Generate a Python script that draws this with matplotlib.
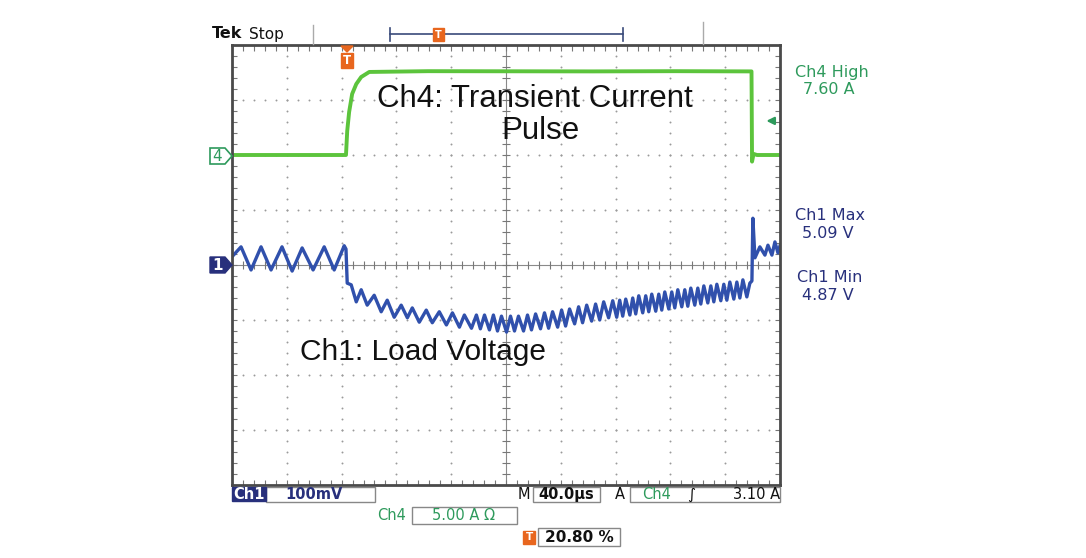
import matplotlib
matplotlib.use("Agg")
import matplotlib.pyplot as plt
from matplotlib.patches import Rectangle, Polygon
from matplotlib.collections import LineCollection
import numpy as np

# scope settings
time_per_div = 40.0      # us
trigger_pos = 0.208      # fraction of record
ch1_scale = 0.100        # V/div
ch1_offset = 5.00        # V at centre line
ch4_scale = 5.0          # A/div
ch4_ground_div = 2.0     # divisions above centre

# Ch4 transient current (us, A)
ch4_t = [-83.2, -40.0, 0.0, 0.9, 2.3, 4.5, 7.5, 11.1, 17.0, 60.0, 120.0, 180.0, 240.0,
         296.0, 296.4, 297.5, 300.0, 316.8]
ch4_i = [0.0, 0.0, 0.0, 2.18, 3.91, 5.55, 6.45, 7.09, 7.55, 7.62, 7.61, 7.60, 7.62,
         7.60, -0.6, 0.1, 0.0, 0.0]

# Ch1 load voltage (us, V) - ripple vertices
ch1_t = [-83.2, -76.6, -69.3, -62.0, -54.7, -46.7, -39.3, -32.0, -24.0, -15.9, -8.6, -1.3, 0.0,
         0.9, 3.8, 7.5, 11.1, 15.5, 20.6, 25.7, 30.1, 35.2, 40.3, 44.8, 48.4, 53.5, 58.6,
         63.0, 68.1, 73.3, 77.7, 82.8, 86.4, 91.6, 95.2,
         98.1, 101.1, 104.7, 107.6, 110.6, 113.5, 117.2, 120.1, 123.0, 125.9, 129.6, 132.5,
         135.4, 138.4, 142.0, 144.9, 147.9, 150.8, 154.5, 157.4, 160.3, 163.2, 166.9, 169.8,
         172.7, 175.7, 179.3, 182.2, 185.2, 188.1, 191.7, 194.7, 197.6,
         199.8, 202.0, 204.2, 207.2, 209.3, 211.5, 213.7, 216.6, 218.8, 221.0, 223.2, 226.1,
         228.3, 230.5, 232.7, 235.6, 237.8, 240.0, 242.2, 245.1, 247.3, 249.5, 251.7, 254.6,
         256.8, 259.0, 261.2, 264.1, 266.3, 268.5, 270.7, 273.6, 275.8, 278.0, 280.2, 283.1,
         285.3, 287.5, 289.7, 292.6, 294.8,
         296.3, 297.0, 298.5, 302.1, 305.8, 308.0, 310.9, 313.1, 315.3, 316.8]
ch1_v = [5.015, 5.033, 4.991, 5.033, 4.991, 5.033, 4.989, 5.031, 4.991, 5.033, 4.991, 5.035, 5.029,
         4.967, 4.964, 4.933, 4.955, 4.927, 4.945, 4.915, 4.936, 4.905, 4.927, 4.904, 4.922,
         4.896, 4.918, 4.895, 4.915, 4.891, 4.913, 4.887, 4.909, 4.885, 4.909,
         4.884, 4.909, 4.882, 4.909, 4.880, 4.907, 4.878, 4.907, 4.880, 4.907, 4.880, 4.909,
         4.882, 4.911, 4.884, 4.913, 4.885, 4.915, 4.887, 4.918, 4.889, 4.920, 4.893, 4.924,
         4.895, 4.927, 4.898, 4.929, 4.900, 4.933, 4.904, 4.935, 4.905,
         4.936, 4.907, 4.938, 4.909, 4.940, 4.911, 4.944, 4.913, 4.944, 4.915, 4.947, 4.916,
         4.947, 4.918, 4.951, 4.920, 4.951, 4.922, 4.955, 4.924, 4.955, 4.925, 4.958, 4.927,
         4.958, 4.929, 4.962, 4.931, 4.962, 4.933, 4.965, 4.935, 4.965, 4.936, 4.969, 4.938,
         4.969, 4.940, 4.973, 4.942, 4.967,
         4.971, 5.085, 5.013, 5.033, 5.018, 5.036, 5.018, 5.042, 5.022, 5.035]

ch4_readout = ["Ch4 High", "7.60 A"]
ch1_readout = ["Ch1 Max", "5.09 V", "Ch1 Min", "4.87 V"]

GREEN = "#5cc43c"
GREEN_TXT = "#2e9a5c"
BLUE = "#3050ac"
NAVY = "#28307c"
ORANGE = "#e8661e"
W, H = 1086, 558

fig = plt.figure(figsize=(W / 100, H / 100), dpi=100)
fig.patch.set_facecolor("white")

# graticule axes, 10 x 8 divisions
ax = fig.add_axes([232 / W, (H - 485) / H, 548 / W, 440 / H])
ax.set_xlim(0, 10)
ax.set_ylim(-4, 4)
ax.set_xticks([])
ax.set_yticks([])
for s in ax.spines.values():
    s.set_color("#4a4a4a")
    s.set_linewidth(2.0)

xm = np.arange(0, 10.001, 0.2)
ym = np.arange(-4, 4.001, 0.2)
for i in range(1, 10):
    if i != 5:
        ax.plot([i] * len(ym), ym, ls="none", marker="o", ms=1.4, color="#9a9a9a", mec="none")
for j in range(-3, 4):
    if j != 0:
        ax.plot(xm, [j] * len(xm), ls="none", marker="o", ms=1.4, color="#9a9a9a", mec="none")
ax.axvline(5, color="#8a8a8a", lw=0.8)
ax.axhline(0, color="#8a8a8a", lw=0.8)
segs = []
for y in ym:
    segs.append([(4.93, y), (5.07, y)])
    segs.append([(0, y), (0.09, y)])
    segs.append([(9.91, y), (10, y)])
for x in xm:
    segs.append([(x, -0.08), (x, 0.08)])
    segs.append([(x, 4), (x, 3.9)])
    segs.append([(x, -4), (x, -3.9)])
ax.add_collection(LineCollection(segs, colors="#777777", linewidths=0.8))

t0 = trigger_pos * 10 * time_per_div
x4 = (np.array(ch4_t) + t0) / time_per_div
y4 = np.array(ch4_i) / ch4_scale + ch4_ground_div
ax.plot(x4, y4, color=GREEN, lw=2.8, solid_joinstyle="round")
x1 = (np.array(ch1_t) + t0) / time_per_div
y1 = (np.array(ch1_v) - ch1_offset) / ch1_scale
ax.plot(x1, y1, color=BLUE, lw=2.4, solid_joinstyle="round")

# trigger level arrow (3.10 A)
trig_div = 3.10 / ch4_scale + ch4_ground_div
ax.annotate("", xy=(9.7, trig_div), xytext=(9.93, trig_div),
            arrowprops=dict(arrowstyle="-|>", color=GREEN_TXT, lw=1.6, mutation_scale=11))

# overlay in pixel coordinates
ov = fig.add_axes([0, 0, 1, 1], facecolor="none")
ov.set_xlim(0, W)
ov.set_ylim(H, 0)
ov.axis("off")
ov.set_zorder(5)

ov.text(212, 34, "Tek", fontsize=11.5, fontweight="bold", va="center", ha="left", color="#111")
ov.text(249, 34, "Stop", fontsize=11, va="center", ha="left", color="#111")
ov.plot([313, 313], [25, 44], color="#aaaaaa", lw=1)
ov.plot([703, 703], [22, 44], color="#aaaaaa", lw=1)
ov.plot([390, 623], [34, 34], color="#3a4a7a", lw=1.2)
ov.plot([390, 390], [28, 41], color="#3a4a7a", lw=1.2)
ov.plot([623, 623], [28, 41], color="#3a4a7a", lw=1.2)
ov.add_patch(Rectangle((433, 28), 11, 13, color=ORANGE, zorder=6))
ov.text(438.5, 35, "T", fontsize=7, color="white", fontweight="bold", ha="center", va="center", zorder=7)

# trigger marker on graticule
ov.add_patch(Polygon([(341, 46), (353, 46), (347, 52)], color=ORANGE, zorder=6))
ov.add_patch(Rectangle((341, 53), 12, 15, color=ORANGE, zorder=6))
ov.text(347, 61, "T", fontsize=8.5, color="white", fontweight="bold", ha="center", va="center", zorder=7)

# channel markers
ov.add_patch(Polygon([(210, 148), (225, 148), (232, 156), (225, 164), (210, 164)],
                     facecolor="white", edgecolor=GREEN_TXT, lw=1.2, zorder=6))
ov.text(217.5, 156.5, "4", fontsize=11, color=GREEN_TXT, ha="center", va="center", zorder=7)
ov.add_patch(Polygon([(210, 257), (225, 257), (232, 265), (225, 273), (210, 273)],
                     facecolor=NAVY, edgecolor=NAVY, lw=1, zorder=6))
ov.text(217.5, 265.5, "1", fontsize=11, color="white", fontweight="bold", ha="center", va="center", zorder=7)

# annotations
ov.text(535, 99, "Ch4: Transient Current", fontsize=22.5, family="Liberation Sans",
        ha="center", va="center", color="#111")
ov.text(541, 131, "Pulse", fontsize=22.5, family="Liberation Sans", ha="center", va="center", color="#111")
ov.text(300, 352, "Ch1: Load Voltage", fontsize=21.5, family="Liberation Sans",
        ha="left", va="center", color="#111")

# readouts on the right
ov.text(832, 73, ch4_readout[0], fontsize=11.5, color=GREEN_TXT, ha="center", va="center")
ov.text(829, 90, ch4_readout[1], fontsize=11.5, color=GREEN_TXT, ha="center", va="center")
ov.text(830, 216, ch1_readout[0], fontsize=11.5, color=NAVY, ha="center", va="center")
ov.text(828, 234, ch1_readout[1], fontsize=11.5, color=NAVY, ha="center", va="center")
ov.text(830, 278, ch1_readout[2], fontsize=11.5, color=NAVY, ha="center", va="center")
ov.text(828, 296, ch1_readout[3], fontsize=11.5, color=NAVY, ha="center", va="center")

# status bar
box = dict(facecolor="none", edgecolor="#888888", lw=1)
ov.add_patch(Rectangle((232, 487), 34, 14, color=NAVY, zorder=6))
ov.text(249, 494.5, "Ch1", fontsize=10.5, color="white", fontweight="bold", ha="center", va="center", zorder=7)
ov.add_patch(Rectangle((266, 487), 109, 15, **box))
ov.text(285, 494.5, "100mV", fontsize=10.5, color=NAVY, fontweight="bold", ha="left", va="center")
ov.text(524, 494.5, "M", fontsize=10.5, color="#111", ha="center", va="center")
ov.add_patch(Rectangle((533, 487), 67, 15, **box))
ov.text(566, 494.5, "40.0µs", fontsize=10.5, color="#111", fontweight="bold", ha="center", va="center")
ov.text(620, 494.5, "A", fontsize=10.5, color="#111", ha="center", va="center")
ov.add_patch(Rectangle((630, 487), 150, 15, **box))
ov.text(642, 494.5, "Ch4", fontsize=10.5, color=GREEN_TXT, ha="left", va="center")
ov.text(691, 494.5, "∫", fontsize=11, color="#111", ha="center", va="center", style="italic")
ov.text(780, 494.5, "3.10 A", fontsize=10.5, color="#111", ha="right", va="center")
ov.text(377, 515.5, "Ch4", fontsize=10.5, color=GREEN_TXT, ha="left", va="center")
ov.add_patch(Rectangle((412, 507), 105, 17, **box))
ov.text(464, 515.5, "5.00 A Ω", fontsize=10.5, color=GREEN_TXT, ha="center", va="center")
ov.add_patch(Rectangle((523, 531), 12, 13, color=ORANGE, zorder=6))
ov.text(529, 537.5, "T", fontsize=7.5, color="white", fontweight="bold", ha="center", va="center", zorder=7)
ov.add_patch(Rectangle((538, 528), 82, 18, **box))
ov.text(545, 537.5, "20.80 %", fontsize=11, color="#111", fontweight="bold", ha="left", va="center")

fig.savefig("out.png", dpi=100)
